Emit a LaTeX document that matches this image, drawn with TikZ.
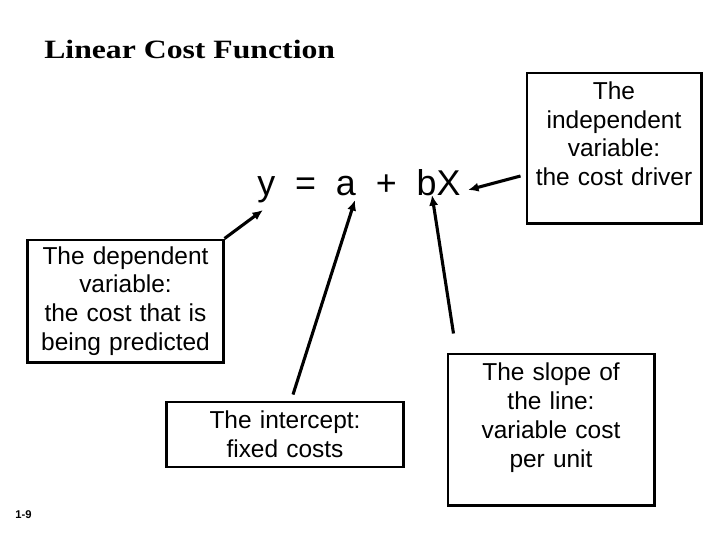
\documentclass[tikz,border=0pt]{standalone}
\usepackage{fontspec}
\setmainfont{Liberation Sans}
\newfontfamily\titlefont[FakeStretch=1.2]{Liberation Serif}
\usetikzlibrary{arrows.meta}
\tikzset{
  plaintext/.style={anchor=base west, inner sep=0pt},
  notebox/.style={draw, line width=2.1pt, inner sep=0pt, align=center,
                  font=\fontsize{17.4}{20.5}\selectfont},
  pointer/.style={line width=2.2pt, -{Latex[length=7.5pt, width=6.5pt]}},
}

\begin{document}
\begin{tikzpicture}[x=0.025cm, y=-0.025cm]
    \useasboundingbox (0,0) rectangle (720,540);
    \node[plaintext, font=\titlefont\bfseries\fontsize{18.8}{22}\selectfont] (title) at (44,58) {Linear Cost Function};
    \node[plaintext, font=\fontsize{25.5}{30}\selectfont] (eq) at (257,195) {y\ \ =\ \ a\ \ +\ \ bX};
    \node[notebox, text width=4.875cm, minimum height=3.05cm] (dep) at (125.5,301) {The dependent\\variable:\\the cost that is\\being predicted};
    \node[notebox, text width=4.35cm, minimum height=3.75cm] (ind) at (614,148) {The\\independent\\variable:\\the cost driver\\\mbox{}};
    \node[notebox, text width=5.9cm, minimum height=1.625cm] (icpt) at (285,434.5) {The intercept:\\fixed costs};
    \node[notebox, text width=5.15cm, minimum height=3.775cm] (slope) at (551,429.5) {The slope of\\the line:\\variable cost\\per unit\\\mbox{}};
    \node[plaintext, font=\bfseries\fontsize{8}{10}\selectfont] (page) at (15,518) {1-9};
    \coordinate (ytip) at (263,210);
    \coordinate (atip) at (355,200);
    \coordinate (btip) at (432,195);
    \coordinate (xtip) at (468,190);
    \draw[pointer] (dep.north east) -- (ytip);
    \draw[pointer] ([shift={(8,-6)}]icpt.north) -- (atip);
    \draw[pointer] ([shift={(7,-19)}]slope.north west) -- (btip);
    \draw[pointer] ([shift={(-5,28)}]ind.west) -- (xtip);
\end{tikzpicture}
\end{document}
